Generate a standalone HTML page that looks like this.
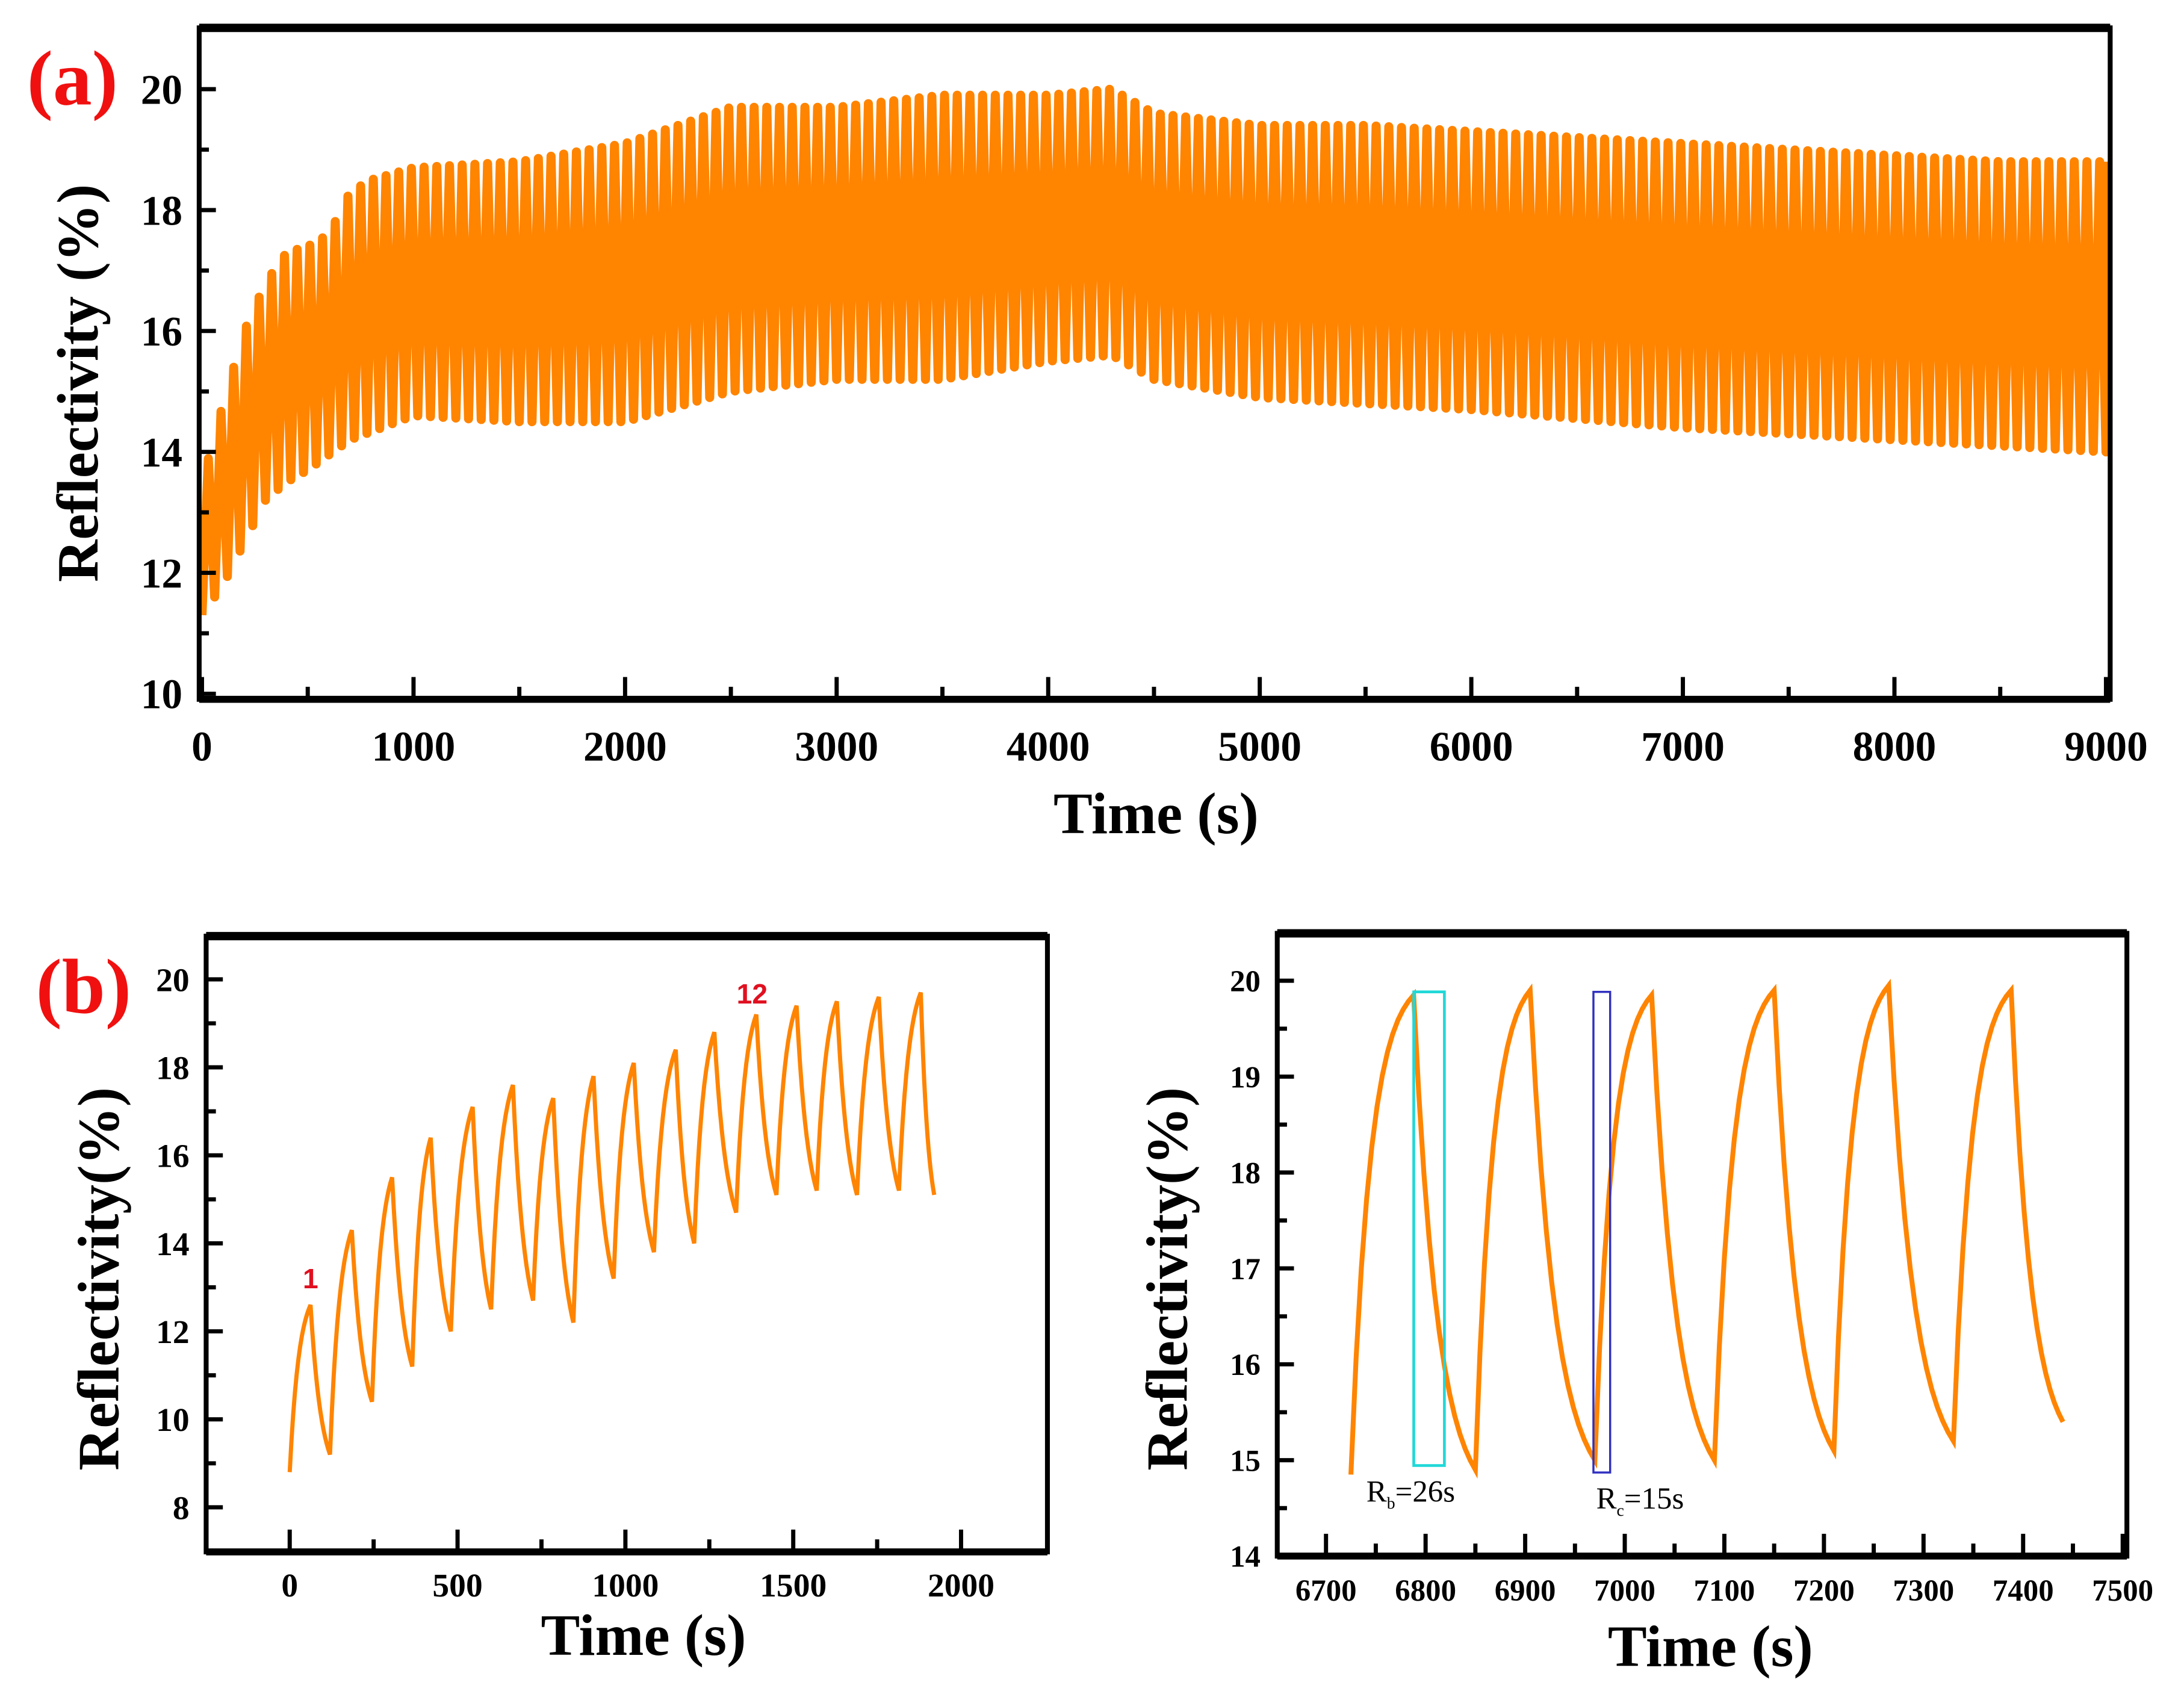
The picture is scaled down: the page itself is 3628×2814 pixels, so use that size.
<!DOCTYPE html>
<html><head><meta charset="utf-8"><style>
html,body{margin:0;padding:0;background:#fff;}
svg{display:block;}
text{font-family:"Liberation Serif",serif;font-weight:bold;fill:#000;}
</style></head><body>
<svg id="fig" width="3628" height="2814" viewBox="0 0 1568 1216" preserveAspectRatio="none" xmlns="http://www.w3.org/2000/svg">
<g id="pa"></g>
<g id="pb"></g>
<g id="pc"></g>
</svg>
<script>
// ---- Panel (a) data: envelope of the oscillating signal ----
const aUpT = [0,100,200,300,400,500,600,700,800,1000,1500,2000,2500,3000,3500,4000,4300,4500,5000,5500,6000,6500,7000,7500,8000,8500,9000];
const aUpV = [13.5,14.8,16,16.8,17.3,17.4,17.6,18.3,18.5,18.7,18.8,19.1,19.7,19.7,19.9,19.9,20,19.6,19.4,19.4,19.3,19.2,19.1,19.0,18.9,18.8,18.8];
const aLoT = [0,100,200,300,400,500,700,1000,1500,2000,2500,3000,3500,4000,4300,4500,5000,6000,7000,8000,9000];
const aLoV = [11.3,11.8,12.5,13.2,13.5,13.7,14.2,14.6,14.5,14.5,15.0,15.2,15.2,15.5,15.6,15.2,14.9,14.7,14.4,14.2,14.0];
const aPeriod = 60;
const aXTicks = [0,1000,2000,3000,4000,5000,6000,7000,8000,9000];
const aYTicks = [10,12,14,16,18,20];
// ---- Panel (b) left data ----
const bPeakT = [62,185,305,420,545,665,785,905,1025,1150,1265,1390,1510,1630,1755,1880];
const bPeakV = [12.6,14.3,15.5,16.4,17.1,17.6,17.3,17.8,18.1,18.4,18.8,19.2,19.4,19.5,19.6,19.7];
const bTroughT = [0,120,245,365,480,600,725,845,965,1085,1205,1330,1450,1570,1690,1815,1920];
const bTroughV = [8.8,9.2,10.4,11.2,12.0,12.5,12.7,12.2,13.2,13.8,14.0,14.7,15.1,15.2,15.1,15.2,15.1];
const bXTicks = [0,500,1000,1500,2000];
const bYTicks = [8,10,12,14,16,18,20];
// ---- Panel (b) right data ----
const cPeakT = [6788,6905,7027,7150,7265,7388];
const cPeakV = [19.85,19.9,19.85,19.9,19.95,19.9];
const cTroughT = [6725,6850,6970,7090,7210,7330,7440];
const cTroughV = [14.85,14.9,15.0,15.0,15.1,15.2,15.4];
const cXTicks = [6700,6800,6900,7000,7100,7200,7300,7400,7500];
const cYTicks = [14,15,16,17,18,19,20];

const NS="http://www.w3.org/2000/svg";
const OR="#ff8400";
function mk(parent,tag,attrs){const e=document.createElementNS(NS,tag);for(const k in attrs)e.setAttribute(k,attrs[k]);parent.appendChild(e);return e;}
function lin(d0,d1,r0,r1){return v=>r0+(v-d0)*(r1-r0)/(d1-d0);}
function interp(ts,vs,t){if(t<=ts[0])return vs[0];for(let i=1;i<ts.length;i++){if(t<=ts[i]){const f=(t-ts[i-1])/(ts[i]-ts[i-1]);return vs[i-1]+f*(vs[i]-vs[i-1]);}}return vs[vs.length-1];}

function frame(g,x0,y0,x1,y1){
  const r=mk(g,'rect',{x:x0,y:y0,width:x1-x0,height:y1-y0,fill:'none',stroke:'#000','stroke-width':3.5});
  
  mk(g,'line',{x1:x0,y1:y0,x2:x1,y2:y0,stroke:'#000','stroke-width':6});
  mk(g,'line',{x1:x0,y1:y1,x2:x1,y2:y1,stroke:'#000','stroke-width':5});
}
function axes(g,X,Y,x0,y0,x1,y1,xt,yt,xMinorStep,yMinorStep,fs,xLabDy,yLabDx){
  const xmin=xt[0],xmax=xt[xt.length-1];
  for(let v=xmin;v<=xmax+1e-9;v+=xMinorStep){
    const major=xt.some(t=>Math.abs(t-v)<1e-6);
    const x=X(v);
    mk(g,'line',{x1:x,y1:y1,x2:x,y2:y1-(major?16:9),stroke:'#000','stroke-width':3});
  }
  xt.forEach(v=>{const t=mk(g,'text',{x:X(v),y:y1+xLabDy,'font-size':fs,'text-anchor':'middle'});t.textContent=v;
    });
  const ymin=yt[0],ymax=yt[yt.length-1];
  for(let v=ymin;v<=ymax+1e-9;v+=yMinorStep){
    const major=yt.some(t=>Math.abs(t-v)<1e-6);
    const y=Y(v);
    mk(g,'line',{x1:x0,y1:y,x2:x0+(major?12:7),y2:y,stroke:'#000','stroke-width':3});
  }
  yt.forEach(v=>{const t=mk(g,'text',{x:x0-yLabDx,y:Y(v)+fs*0.35,'font-size':fs,'text-anchor':'end'});t.textContent=v;
    });
}
function title(g,txt,x,y,fs,rot,name){
  const t=mk(g,'text',{x:x,y:y,'font-size':fs,'text-anchor':'middle'});
  if(rot)t.setAttribute('transform','rotate(-90 '+x+' '+y+')');
  t.textContent=txt;
  
  return t;
}
function cycles(X,Y,troughT,troughV,peakT,peakV,k){
  let d='M'+X(troughT[0])+' '+Y(troughV[0]);
  const n=Math.min(peakT.length,troughT.length-1);
  for(let i=0;i<n;i++){
    const t0=troughT[i],v0=troughV[i],tp=peakT[i],vp=peakV[i],t1=troughT[i+1],v1=troughV[i+1];
    for(let s=1;s<=12;s++){const f=s/12;const e=(1-Math.exp(-k*f))/(1-Math.exp(-k));d+=' L'+X(t0+(tp-t0)*f).toFixed(2)+' '+Y(v0+(vp-v0)*e).toFixed(2);}
    for(let s=1;s<=12;s++){const f=s/12;const e=(1-Math.exp(-k*0.8*f))/(1-Math.exp(-k*0.8));d+=' L'+X(tp+(t1-tp)*f).toFixed(2)+' '+Y(vp+(v1-vp)*e).toFixed(2);}
  }
  return d;
}

// ===== Panel (a) =====
(function(){
  const g=document.getElementById('pa');
  const X=lin(0,9000,145,1512), Y=lin(10,20,498,64);
  let d='', t=0, first=true;
  while(t<=9000){
    const lo=interp(aLoT,aLoV,t), tp=Math.min(t+aPeriod*0.5,9000), hi=interp(aUpT,aUpV,tp);
    d+=(first?'M':' L')+X(t).toFixed(2)+' '+Y(lo).toFixed(2)+' L'+X(tp).toFixed(2)+' '+Y(hi).toFixed(2);
    first=false; t+=aPeriod;
  }
  const p=mk(g,'path',{d:d,fill:'none',stroke:OR,'stroke-width':6.5,'stroke-linejoin':'round'});
  
  frame(g,143,20,1515,502);
  axes(g,X,Y,143,20,1515,502,aXTicks,aYTicks,500,1,30,44,12);
  title(g,'Time (s)',830,598,42,false,'x-axis-title-a');
  title(g,'Reflectivity (%)',70,275,42,true,'y-axis-title-a');
  const l=mk(g,'text',{x:52,y:75,'font-size':56,'text-anchor':'middle',style:'fill:#f01010'});l.textContent='(a)';
  
})();

// ===== Panel (b) left =====
(function(){
  const g=document.getElementById('pb');
  const X=lin(0,2000,208,690), Y=lin(8,20,1082,703);
  const p=mk(g,'path',{d:cycles(X,Y,bTroughT,bTroughV,bPeakT,bPeakV,2.2),fill:'none',stroke:OR,'stroke-width':3});
  
  frame(g,148,672,752,1114);
  axes(g,X,Y,148,672,752,1114,bXTicks,bYTicks,250,1,24,32,12);
  title(g,'Time (s)',462,1188,42,false,'x-axis-title-b');
  title(g,'Reflectivity(%)',85,918,42,true,'y-axis-title-b');
  const l=mk(g,'text',{x:60,y:727,'font-size':56,'text-anchor':'middle',style:'fill:#f01010'});l.textContent='(b)';
  
  const a1=mk(g,'text',{x:X(bPeakT[0]),y:Y(bPeakV[0])-12,'font-size':20,'text-anchor':'middle',style:'fill:#e01020;font-family:\"Liberation Sans\",sans-serif'});a1.textContent='1';
  
  const a2=mk(g,'text',{x:X(bPeakT[11])-3,y:Y(bPeakV[11])-8,'font-size':20,'text-anchor':'middle',style:'fill:#e01020;font-family:\"Liberation Sans\",sans-serif'});a2.textContent='12';
  
})();

// ===== Panel (b) right =====
(function(){
  const g=document.getElementById('pc');
  const X=lin(6700,7500,952,1524), Y=lin(14,20,1117,704);
  const p=mk(g,'path',{d:cycles(X,Y,cTroughT,cTroughV,cPeakT,cPeakV,3.2),fill:'none',stroke:OR,'stroke-width':3.5});
  
  const r1=mk(g,'rect',{x:1015,y:712,width:22,height:340,fill:'none',stroke:'#20d8d8','stroke-width':2});
  
  const r2=mk(g,'rect',{x:1144,y:712,width:12,height:345,fill:'none',stroke:'#3030c0','stroke-width':1.5});
  
  frame(g,917,670,1527,1117);
  axes(g,X,Y,917,670,1527,1117,cXTicks,cYTicks,50,0.5,22,32,12);
  title(g,'Time (s)',1228,1196,42,false,'x-axis-title-c');
  title(g,'Reflectivity(%)',852,918,42,true,'y-axis-title-c');
  const t1=mk(g,'text',{x:981,y:1078,'font-size':22,style:'font-weight:normal'});t1.innerHTML='R<tspan font-size="12" dy="5">b</tspan><tspan dy="-5">=26s</tspan>';
  
  const t2=mk(g,'text',{x:1146,y:1083,'font-size':22,style:'font-weight:normal'});t2.innerHTML='R<tspan font-size="12" dy="5">c</tspan><tspan dy="-5">=15s</tspan>';
  
})();
</script>
</body></html>
